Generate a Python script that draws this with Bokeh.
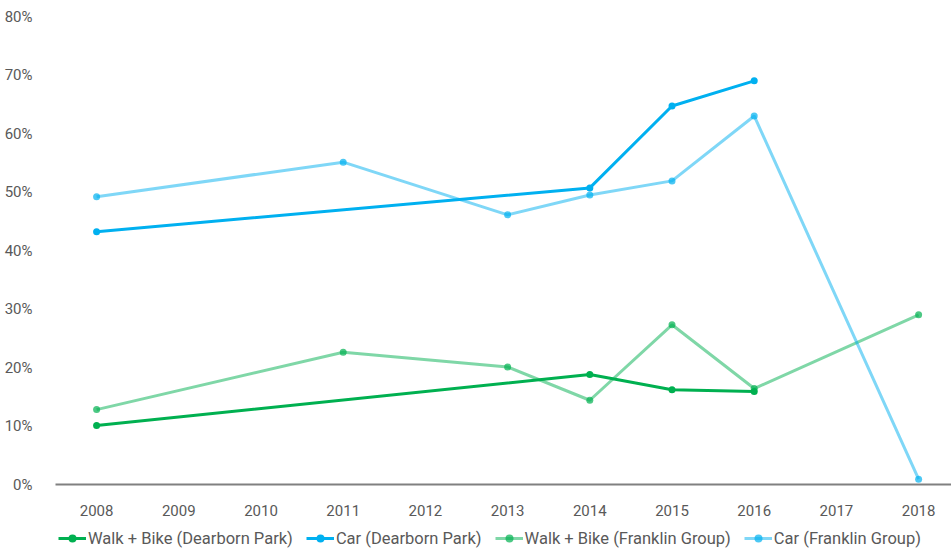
from bokeh.plotting import figure
from bokeh.models import Range1d, FixedTicker, Legend, LegendItem, CustomJSTickFormatter
from bokeh.layouts import column
from bokeh.embed import file_html
from bokeh.resources import INLINE

years = [2008, 2009, 2010, 2011, 2012, 2013, 2014, 2015, 2016, 2017, 2018]
y_ticks = [0, 10, 20, 30, 40, 50, 60, 70, 80]

wb_dp_years = [2008, 2014, 2015, 2016]
wb_dp_vals = [10.1, 18.8, 16.2, 15.9]

car_dp_years = [2008, 2014, 2015, 2016]
car_dp_vals = [43.2, 50.7, 64.7, 69.0]

wb_fg_years = [2008, 2011, 2013, 2014, 2015, 2016, 2018]
wb_fg_vals = [12.8, 22.6, 20.1, 14.4, 27.3, 16.4, 29.0]

car_fg_years = [2008, 2011, 2013, 2014, 2015, 2016, 2018]
car_fg_vals = [49.2, 55.1, 46.1, 49.5, 51.9, 63.0, 0.9]

FONT = "Roboto"
TEXT = "#595959"

p = figure(width=951, height=520, output_backend="svg", toolbar_location=None,
           x_range=Range1d(2007.5, 2018.4), y_range=Range1d(0, 80),
           min_border_left=55, min_border_right=0, min_border_top=16, min_border_bottom=36)
p.outline_line_color = None
p.xgrid.grid_line_color = None
p.ygrid.grid_line_color = None

p.xaxis.ticker = FixedTicker(ticks=years)
p.xaxis.formatter = CustomJSTickFormatter(code="return String(tick)")
p.xaxis.axis_line_color = "#808080"
p.xaxis.axis_line_width = 2
p.xaxis.major_tick_line_color = None
p.xaxis.minor_tick_line_color = None
p.xaxis.major_label_text_font = FONT
p.xaxis.major_label_text_font_size = "15px"
p.xaxis.major_label_text_color = TEXT
p.xaxis.major_label_standoff = 14

p.yaxis.ticker = FixedTicker(ticks=y_ticks)
p.yaxis.formatter = CustomJSTickFormatter(code="return tick + '%'")
p.yaxis.axis_line_color = None
p.yaxis.major_tick_line_color = None
p.yaxis.minor_tick_line_color = None
p.yaxis.major_label_text_font = FONT
p.yaxis.major_label_text_font_size = "15px"
p.yaxis.major_label_text_color = TEXT
p.yaxis.major_label_standoff = 17

# legend strip below the chart
lg = figure(width=951, height=30, output_backend="svg", toolbar_location=None,
            x_range=Range1d(0, 1), y_range=Range1d(0, 1),
            x_axis_type=None, y_axis_type=None,
            min_border_left=0, min_border_right=0, min_border_top=0, min_border_bottom=0)
lg.outline_line_color = None
lg.xgrid.grid_line_color = None
lg.ygrid.grid_line_color = None

series = [
    ("Walk + Bike (Dearborn Park)", wb_dp_years, wb_dp_vals, "#00b050", 1.0),
    ("Car (Dearborn Park)", car_dp_years, car_dp_vals, "#00b0f0", 1.0),
    ("Walk + Bike (Franklin Group)", wb_fg_years, wb_fg_vals, "#00b050", 0.5),
    ("Car (Franklin Group)", car_fg_years, car_fg_vals, "#00b0f0", 0.5),
]

items = []
for label, xs, ys, color, alpha in series:
    mfa = 1.0 if alpha == 1.0 else 0.7
    p.line(xs, ys, line_color=color, line_width=3, line_alpha=alpha)
    p.scatter(xs, ys, size=7, fill_color=color, line_color=None, fill_alpha=mfa)
    # same series in the legend strip (outside its visible range) for the legend glyphs
    l = lg.line(xs, ys, line_color=color, line_width=3, line_alpha=alpha)
    s = lg.scatter(xs, ys, size=7, fill_color=color, line_color=None, fill_alpha=mfa)
    items.append(LegendItem(label=label, renderers=[l, s]))

legend = Legend(items=items, orientation="horizontal", location=(3, 2),
                label_text_font=FONT, label_text_font_size="16.5px", label_text_color=TEXT,
                border_line_color=None, background_fill_alpha=0,
                glyph_width=28, glyph_height=20, label_standoff=2, spacing=13,
                padding=2, margin=0)
lg.add_layout(legend, "center")

layout = column(p, lg, spacing=0)
open("out.html", "w").write(file_html(layout, INLINE))
